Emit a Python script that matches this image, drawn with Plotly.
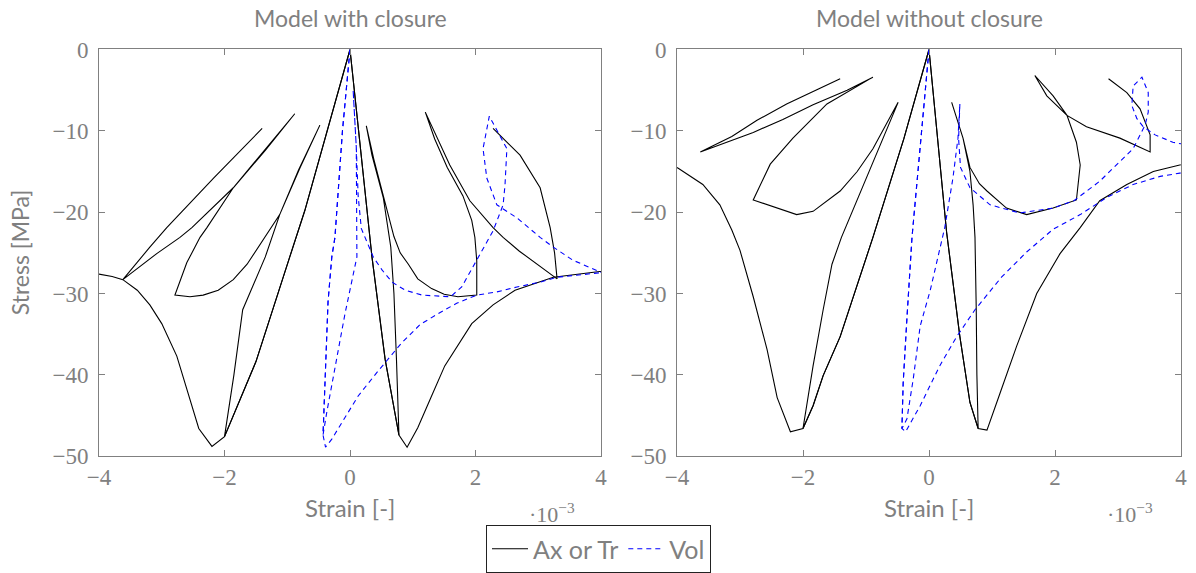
import plotly.graph_objects as go

W, H = 1196, 573

# ---------------- Model with closure (strain in 1e-3, stress in MPa) ----------------
wc_env_ax_x = [0, -0.4, -0.72, -0.96, -1.5, -2.0]
wc_env_ax_y = [0, -11, -19.8, -25.5, -38.4, -47.6]
wc_soft_ax_x = [-2.0, -2.2, -2.41, -2.55, -2.76, -3.0, -3.19, -3.39, -3.62, -3.79, -4.0, -4.3]
wc_soft_ax_y = [-47.6, -48.8, -46.6, -43.0, -37.7, -33.7, -31.4, -29.6, -28.3, -27.9, -27.6, -27.2]
wc_E_ax_x = [-2.0, -1.85, -1.71, -1.35, -1.12, -0.8, -0.48]
wc_E_ax_y = [-47.6, -40, -32, -25.5, -20.3, -14.6, -9.3]
wc_D_ax_x = [-0.48, -0.82, -1.12, -1.39, -1.56, -1.64, -1.86, -2.10, -2.34, -2.55, -2.79]
wc_D_ax_y = [-9.3, -14.8, -20.3, -23.5, -25.5, -26.4, -28.3, -29.6, -30.2, -30.4, -30.2]
wc_C_ax_x = [-2.79, -2.6, -2.39, -2.28, -1.86, -1.35, -0.88]
wc_C_ax_y = [-30.2, -26.2, -23.1, -21.9, -17.0, -12.3, -7.9]
wc_B_ax_x = [-0.88, -1.35, -1.86, -2.52, -2.71, -3.08, -3.62]
wc_B_ax_y = [-7.9, -12.4, -17.0, -21.9, -23.1, -25.1, -28.3]
wc_A_ax_x = [-3.62, -3.19, -2.92, -2.17, -1.4]
wc_A_ax_y = [-28.3, -24.3, -21.9, -15.8, -9.7]

wc_env_tr_x = [0, 0.17, 0.35, 0.56, 0.78]
wc_env_tr_y = [0, -12.6, -25.5, -38.1, -47.4]
wc_soft_tr_x = [0.78, 0.91, 1.08, 1.3, 1.51, 1.94, 2.28, 2.63, 3.24, 3.98, 4.3]
wc_soft_tr_y = [-47.4, -48.9, -46.5, -42.6, -38.9, -33.7, -31.4, -29.6, -28.0, -27.3, -27.1]
wc_E_tr_x = [0.78, 0.74, 0.7, 0.65, 0.53, 0.35, 0.26]
wc_E_tr_y = [-47.4, -38, -30, -24.3, -18.2, -13, -9.4]
wc_D_tr_x = [0.26, 0.38, 0.56, 0.7, 0.8, 0.93, 1.08, 1.3, 1.5, 1.72, 2.02]
wc_D_tr_y = [-9.4, -13.5, -19, -23, -25, -26.4, -28.2, -29.4, -30.1, -30.4, -30.2]
wc_C_tr_x = [2.02, 2.02, 1.99, 1.94, 1.8, 1.55, 1.35, 1.2]
wc_C_tr_y = [-30.2, -26, -23.1, -21, -18, -14.5, -11, -7.7]
wc_B_tr_x = [1.2, 1.59, 1.91, 2.28, 2.44, 2.7, 3.3]
wc_B_tr_y = [-7.7, -14.2, -18.6, -21.9, -23.1, -24.8, -28.2]
wc_A_tr_x = [3.3, 3.26, 3.19, 3.03, 2.71, 2.28]
wc_A_tr_y = [-28.2, -25, -21.9, -17, -13, -9.7]

wc_env_vol_x = [0, -0.12, -0.24, -0.29, -0.35, -0.4, -0.43]
wc_env_vol_y = [0, -10, -23.1, -25.5, -31, -40.5, -47.4]
wc_soft_vol_x = [-0.43, -0.39, -0.29, 0.13, 0.43, 0.82, 1.12, 1.4, 1.7, 2.02, 2.34, 2.66, 3.03, 3.3, 4.0, 4.3]
wc_soft_vol_y = [-47.4, -48.9, -47.9, -42.6, -39.7, -36.1, -33.8, -32.5, -31.2, -30.2, -29.8, -29.2, -28.6, -28.0, -27.4, -27.2]
wc_R_vol_x = [-0.43, -0.37, -0.27, -0.08, 0.11, 0.1, 0.1, 0.05]
wc_R_vol_y = [-47.4, -44.6, -40.5, -32.5, -25.5, -18, -12, -5]
wc_D_vol_x = [0.05, 0.1, 0.13, 0.18, 0.37, 0.51, 0.67, 0.88, 1.15, 1.47, 1.6]
wc_D_vol_y = [-5, -12, -18, -22, -25.5, -27.1, -28.6, -29.6, -30.2, -30.4, -30.4]
wc_C_vol_x = [1.6, 1.78, 2.02, 2.28, 2.44, 2.47, 2.5, 2.22]
wc_C_vol_y = [-30.4, -29.2, -25.9, -22.3, -19.1, -16.7, -12.2, -8.2]
wc_B_vol_x = [2.22, 2.12, 2.18, 2.34, 2.66, 3.03, 3.24, 3.55, 4.0, 4.3]
wc_B_vol_y = [-8.2, -12.2, -15.8, -19.1, -20.7, -23.1, -24.3, -25.9, -27.4, -28]

# ---------------- Model without closure ----------------
nc_env_ax_x = [0, -0.4, -0.89, -1.1, -1.41, -1.68, -1.84, -2.0]
nc_env_ax_y = [0, -11, -23.1, -28, -35.3, -40.1, -43.8, -46.6]
nc_soft_ax_x = [-2.0, -2.2, -2.41, -2.57, -2.79, -3.0, -3.13, -3.32, -3.59, -3.98, -4.3]
nc_soft_ax_y = [-46.6, -47.0, -42.8, -36.9, -30.4, -24.7, -22.2, -19.1, -16.6, -14.6, -13.4]
nc_E_ax_x = [-2.0, -1.84, -1.68, -1.54, -1.39, -0.95, -0.49]
nc_E_ax_y = [-46.6, -38.9, -32, -26.4, -23.1, -15, -6.5]
nc_D_ax_x = [-0.49, -0.89, -1.14, -1.41, -1.84, -2.1, -2.79]
nc_D_ax_y = [-6.5, -12.2, -15, -17.4, -19.9, -20.3, -18.5]
nc_C_ax_x = [-2.79, -2.52, -2.16, -1.62, -0.89]
nc_C_ax_y = [-18.5, -14.1, -10.9, -6.7, -3.4]
nc_B_ax_x = [-0.89, -1.3, -1.84, -2.32, -2.79, -3.21, -3.63]
nc_B_ax_y = [-3.4, -5.0, -6.8, -8.6, -10.2, -11.4, -12.6]
nc_A_ax_x = [-3.63, -3.13, -2.73, -2.26, -1.41]
nc_A_ax_y = [-12.6, -10.7, -8.7, -6.7, -3.6]

nc_env_tr_x = [0, 0.14, 0.28, 0.49, 0.65, 0.78]
nc_env_tr_y = [0, -11.5, -22.5, -35.3, -43.4, -46.6]
nc_soft_tr_x = [0.78, 0.92, 1.13, 1.39, 1.71, 2.08, 2.4, 2.71, 3.14, 3.56, 3.98, 4.3]
nc_soft_tr_y = [-46.6, -46.8, -42.2, -36.5, -30, -25.1, -21.9, -18.6, -16.6, -15, -14.2, -13.7]
nc_E_tr_x = [0.77, 0.76, 0.75, 0.73, 0.7, 0.65, 0.54, 0.36]
nc_E_tr_y = [-46.6, -40, -32, -23.1, -19.1, -15, -10.9, -6.5]
nc_D_tr_x = [0.36, 0.54, 0.65, 0.8, 0.92, 1.23, 1.55, 1.97, 2.34]
nc_D_tr_y = [-6.5, -10.9, -14.5, -16.5, -17.4, -19.5, -20.3, -19.5, -18.5]
nc_C_tr_x = [2.34, 2.4, 2.34, 2.19, 1.97, 1.68]
nc_C_tr_y = [-18.5, -14.2, -11.4, -8.1, -5.7, -3.2]
nc_B_tr_x = [1.68, 1.87, 2.19, 2.5, 3.03, 3.51]
nc_B_tr_y = [-3.2, -5.7, -8.1, -9.5, -10.9, -12.6]
nc_A_tr_x = [3.51, 3.51, 3.35, 3.14, 2.85]
nc_A_tr_y = [-12.6, -10.5, -7.3, -5.3, -3.6]

nc_env_vol_x = [0, -0.14, -0.27, -0.35, -0.41, -0.43]
nc_env_vol_y = [0, -12, -23.1, -33, -41, -46.6]
nc_soft_vol_x = [-0.43, -0.37, -0.3, -0.14, 0.17, 0.44, 0.73, 1.15, 1.55, 1.97, 2.4, 2.82, 3.24, 3.67, 3.98, 4.3]
nc_soft_vol_y = [-46.6, -47, -46, -43.8, -38.9, -35.3, -32, -28, -24.9, -22.1, -20.3, -18.2, -16.6, -15.6, -15.2, -14.9]
nc_R_vol_x = [-0.43, -0.35, -0.25, -0.14, 0.02, 0.25, 0.38, 0.46, 0.49]
nc_R_vol_y = [-46.6, -45.4, -40.5, -34, -29.6, -21.9, -15.8, -10.9, -6.7]
nc_D_vol_x = [0.49, 0.47, 0.5, 0.65, 0.97, 1.44, 1.97, 2.3]
nc_D_vol_y = [-6.7, -11, -14.5, -17, -19.1, -20.1, -19.5, -18.6]
nc_C_vol_x = [2.3, 2.71, 2.98, 3.24, 3.43, 3.48, 3.48, 3.38]
nc_C_vol_y = [-18.6, -16.2, -14.2, -12.2, -9.3, -7.7, -5.3, -3.4]
nc_B_vol_x = [3.38, 3.24, 3.22, 3.3, 3.4, 3.59, 3.87, 4.0, 4.3]
nc_B_vol_y = [-3.4, -4.5, -6.9, -8.5, -9.5, -10.5, -11.4, -11.6, -12.0]

x_ticks = [-4, -2, 0, 2, 4]
y_ticks = [0, -10, -20, -30, -40, -50]
titles = ["Model with closure", "Model without closure"]

GRAY = "#808080"
SANS = "Lato, 'Open Sans', sans-serif"
SERIF = "'Liberation Serif', 'DejaVu Serif', serif"


def chain(*segs):
    xs, ys = [], []
    for sx, sy in segs:
        if xs:
            xs.extend(sx[1:]); ys.extend(sy[1:])
        else:
            xs.extend(sx); ys.extend(sy)
    return xs, ys


fig = go.Figure()
panels = [
    dict(p="wc", xa="x", ya="y"),
    dict(p="nc", xa="x2", ya="y2"),
]
G = globals()
for i, pn in enumerate(panels):
    p = pn["p"]
    def seg(name):
        return (G[f"{p}_{name}_x"], G[f"{p}_{name}_y"])
    black = dict(color="black", width=1.1)
    blue = dict(color="#0000ff", width=1.1, dash="5px,4px")
    series = [
        (chain(seg("env_ax"), seg("soft_ax")), black, "Ax or Tr", i == 0),
        (chain(seg("env_ax"), seg("E_ax"), seg("D_ax"), seg("C_ax"), seg("B_ax"), seg("A_ax")), black, "Ax or Tr", False),
        (chain(seg("env_tr"), seg("soft_tr")), black, "Ax or Tr", False),
        (chain(seg("env_tr"), seg("E_tr"), seg("D_tr"), seg("C_tr"), seg("B_tr"), seg("A_tr")), black, "Ax or Tr", False),
        (chain(seg("env_vol"), seg("soft_vol")), blue, "Vol", i == 0),
        (chain(seg("env_vol"), seg("R_vol"), seg("D_vol"), seg("C_vol"), seg("B_vol")), blue, "Vol", False),
    ]
    for (xs, ys), ln, name, show in series:
        fig.add_trace(go.Scatter(x=xs, y=ys, mode="lines", line=ln, name=name,
                                 showlegend=show, xaxis=pn["xa"], yaxis=pn["ya"],
                                 hoverinfo="skip"))

ydom = [1 - 461 / H, 1 - 50 / H]
axis_common = dict(showgrid=False, zeroline=False, showline=True, linecolor=GRAY, linewidth=1,
                   mirror="allticks", ticks="inside", ticklen=6, tickcolor=GRAY, tickwidth=1,
                   automargin=False,
                   tickfont=dict(family=SERIF, size=23, color=GRAY))
fig.update_layout(
    width=W, height=H, autosize=False,
    margin=dict(l=0, r=0, t=0, b=0),
    plot_bgcolor="white", paper_bgcolor="white",
    xaxis=dict(domain=[99 / W, 601 / W], range=[-4, 4], tickvals=x_ticks, anchor="y", **axis_common),
    yaxis=dict(domain=ydom, range=[-50, 0], tickvals=y_ticks, anchor="x", ticklabelstandoff=5, **axis_common),
    xaxis2=dict(domain=[677 / W, 1181 / W], range=[-4, 4], tickvals=x_ticks, anchor="y2", **axis_common),
    yaxis2=dict(domain=ydom, range=[-50, 0], tickvals=y_ticks, anchor="x2", ticklabelstandoff=5, **axis_common),
    legend=dict(orientation="h", x=598.5 / W, xanchor="center", y=1 - 531 / H, yanchor="top",
                bordercolor="#222", borderwidth=1, bgcolor="white",
                font=dict(family=SANS, size=25, color=GRAY), itemwidth=36,
                tracegroupgap=0),
    showlegend=True,
)

ann = []
for cx, t in zip([350, 929], titles):
    ann.append(dict(text=t, x=cx / W, y=1 - 18 / H, xref="paper", yref="paper",
                    xanchor="center", yanchor="middle", showarrow=False,
                    font=dict(family=SANS, size=23, color=GRAY)))
    ann.append(dict(text="Strain [-]", x=cx / W, y=1 - 513 / H, xref="paper", yref="paper",
                    xanchor="center", yanchor="middle", showarrow=False,
                    font=dict(family=SANS, size=24, color=GRAY)))
for cx in [552, 1130]:
    ann.append(dict(text="·10<sup>−3</sup>", x=cx / W, y=1 - 518 / H, xref="paper", yref="paper",
                    xanchor="center", yanchor="middle", showarrow=False,
                    font=dict(family=SERIF, size=22, color=GRAY)))
ann.append(dict(text="Stress [MPa]", x=20 / W, y=1 - 255 / H, xref="paper", yref="paper",
                xanchor="center", yanchor="middle", showarrow=False, textangle=-90,
                font=dict(family=SANS, size=23, color=GRAY)))
fig.update_layout(annotations=ann)

fig.write_html("out.html", config={"displayModeBar": False},
               post_script="document.body.style.margin='0px';document.body.style.overflow='hidden';")
